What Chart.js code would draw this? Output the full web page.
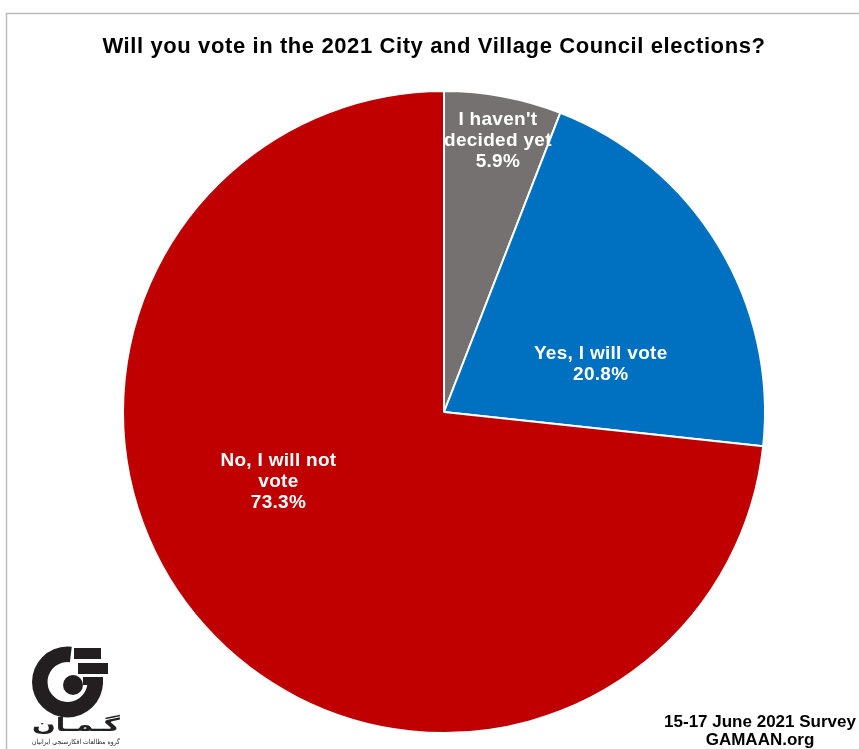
<!DOCTYPE html>
<html>
<head>
<meta charset="utf-8">
<script src="https://cdn.jsdelivr.net/npm/chart.js@4"></script>
<style>
  body { margin: 0; background: #fff; }
  canvas { display: block; }
</style>
</head>
<body>
<canvas id="chart" width="859" height="749"></canvas>
<script>
// values
const categories = ["I haven't decided yet", "Yes, I will vote", "No, I will not vote"];
const shares = [5.9, 20.8, 73.3];
const labelLines = [["I haven't", "decided yet"], ["Yes, I will vote"], ["No, I will not", "vote"]];
const sliceColors = ['#767171', '#0070C0', '#C00000'];

const titleText = 'Will you vote in the 2021 City and Village Council elections?';
const footerLines = ['15-17 June 2021 Survey', 'GAMAAN.org'];

// where each label sits inside its slice: fraction of the slice angle, fraction of the radius
const labelPlace = [[0.53, 0.86], [0.694, 0.51], [0.572, 0.56]];

const FONT = "'Liberation Sans', Arial, Helvetica, sans-serif";

// text stretched or squeezed to a given width
function fitText(ctx, text, cx, cy, width) {
    const w = ctx.measureText(text).width;
    ctx.save();
    ctx.translate(cx, cy);
    ctx.scale(width / w, 1);
    ctx.fillText(text, 0, 0);
    ctx.restore();
}

// Draws the frame, title, slice labels, footer and logo
const decorations = {
    id: 'decorations',
    beforeDraw(chart) {
        const ctx = chart.ctx;
        ctx.save();
        ctx.strokeStyle = '#bdbdbd';
        ctx.lineWidth = 1.5;
        ctx.beginPath();
        ctx.moveTo(6.5, 760);
        ctx.lineTo(6.5, 13.5);
        ctx.lineTo(870, 13.5);
        ctx.stroke();
        ctx.restore();
    },
    afterDatasetsDraw(chart) {
        const ctx = chart.ctx;
        const meta = chart.getDatasetMeta(0);
        ctx.save();
        ctx.fillStyle = '#fff';
        ctx.font = 'bold 19px ' + FONT;
        ctx.letterSpacing = '0.3px';
        ctx.textAlign = 'center';
        ctx.textBaseline = 'middle';
        meta.data.forEach((arc, i) => {
            const p = arc.getProps(['x', 'y', 'startAngle', 'endAngle', 'outerRadius'], true);
            const [t, rf] = labelPlace[i];
            const a = p.startAngle + t * (p.endAngle - p.startAngle);
            const cx = p.x + Math.cos(a) * p.outerRadius * rf;
            const cy = p.y + Math.sin(a) * p.outerRadius * rf;
            const lines = labelLines[i].concat([shares[i].toFixed(1) + '%']);
            const lh = 21;
            lines.forEach((ln, k) => {
                ctx.fillText(ln, cx, cy + (k - (lines.length - 1) / 2) * lh);
            });
        });
        ctx.restore();
    },
    afterDraw(chart) {
        const ctx = chart.ctx;
        ctx.save();
        // title
        ctx.fillStyle = '#000';
        ctx.font = 'bold 22px ' + FONT;
        ctx.letterSpacing = '0.6px';
        ctx.textAlign = 'center';
        ctx.textBaseline = 'middle';
        ctx.fillText(titleText, 434, 47);
        ctx.letterSpacing = '0px';

        // footer
        ctx.font = 'bold 17px ' + FONT;
        ctx.fillText(footerLines[0], 760, 722);
        ctx.fillText(footerLines[1], 760, 740);

        // logo
        ctx.fillStyle = '#231f20';
        const lx = 67.5, ly = 682;
        ctx.beginPath();
        ctx.arc(lx, ly, 35.5, 0, 1.5 * Math.PI + 0.12);
        ctx.arc(lx, ly, 20, 1.5 * Math.PI + 0.12, 0, true);
        ctx.closePath();
        ctx.fill();
        ctx.beginPath();
        ctx.arc(73, 685, 10, 0, 2 * Math.PI);
        ctx.fill();
        ctx.fillRect(74, 648, 27, 11);
        ctx.fillRect(78, 663, 30, 11);
        ctx.fillRect(83, 677, 20, 8);

        ctx.font = "bold 18px 'DejaVu Sans', sans-serif";
        fitText(ctx, 'گـمـان', 76, 726, 88);
        ctx.font = "7px 'DejaVu Sans', sans-serif";
        fitText(ctx, 'گروه مطالعات افکارسنجی ایرانیان', 76, 742, 88);
        ctx.restore();
    }
};

new Chart(document.getElementById('chart'), {
    type: 'pie',
    data: {
        labels: categories,
        datasets: [{
            data: shares,
            backgroundColor: sliceColors,
            borderColor: '#fff',
            borderWidth: 2
        }]
    },
    options: {
        responsive: false,
        animation: false,
        layout: {
            padding: { top: 90, bottom: 15, left: 122, right: 93 }
        },
        plugins: {
            legend: { display: false },
            tooltip: { enabled: false },
            title: { display: false }
        }
    },
    plugins: [decorations]
});
</script>
</body>
</html>
